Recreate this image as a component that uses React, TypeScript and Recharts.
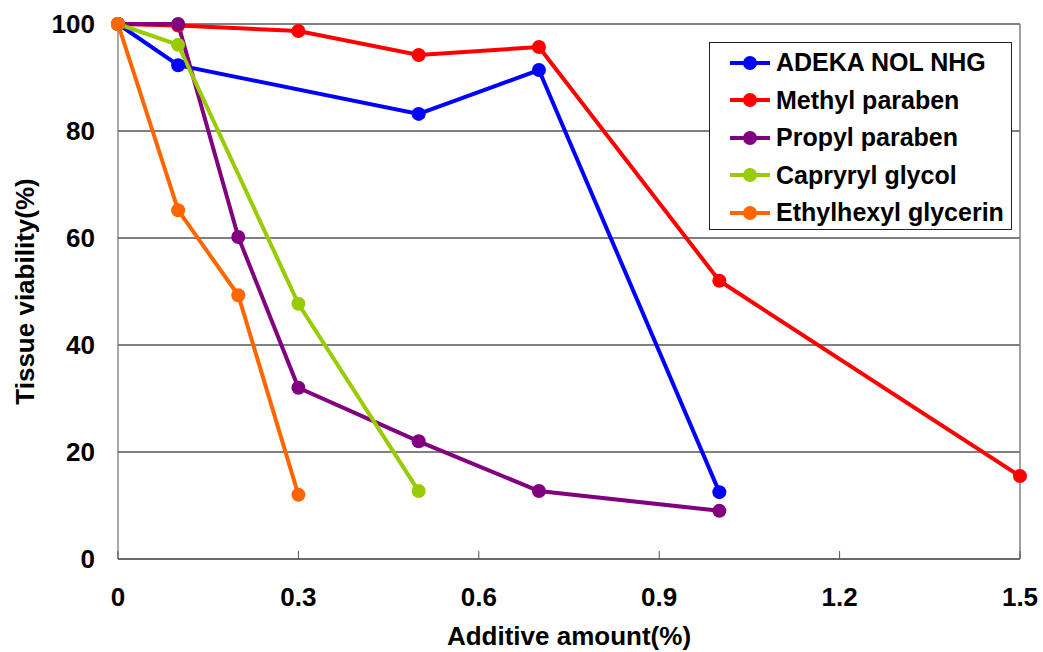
import { LineChart, Line, XAxis, YAxis, CartesianGrid, Legend, ReferenceLine } from "recharts";

// Additive amount (%) and tissue viability (%) for each additive
const adekaX = [0, 0.1, 0.5, 0.7, 1.0];
const adekaY = [100, 92.3, 83.2, 91.4, 12.5];

const methylX = [0, 0.1, 0.3, 0.5, 0.7, 1.0, 1.5];
const methylY = [100, 99.7, 98.7, 94.2, 95.7, 52.0, 15.5];

const propylX = [0, 0.1, 0.2, 0.3, 0.5, 0.7, 1.0];
const propylY = [100, 100, 60.2, 32.0, 22.0, 12.7, 9.0];

const caprylylX = [0, 0.1, 0.3, 0.5];
const caprylylY = [100, 96.1, 47.7, 12.7];

const ethylhexylX = [0, 0.1, 0.2, 0.3];
const ethylhexylY = [100, 65.2, 49.3, 12.0];

const xTicks = [0, 0.3, 0.6, 0.9, 1.2, 1.5];
const yTicks = [0, 20, 40, 60, 80, 100];

const FONT = "'Liberation Sans', Arial, sans-serif";

function toPoints(xs: number[], ys: number[]) {
    return xs.map((x, i) => ({ x, y: ys[i] }));
}

const series = [
    { name: "ADEKA NOL NHG", color: "#0000ff", data: toPoints(adekaX, adekaY) },
    { name: "Methyl paraben", color: "#ff0000", data: toPoints(methylX, methylY) },
    { name: "Propyl paraben", color: "#800080", data: toPoints(propylX, propylY) },
    { name: "Capryryl glycol", color: "#99cc00", data: toPoints(caprylylX, caprylylY) },
    { name: "Ethylhexyl glycerin", color: "#ff6600", data: toPoints(ethylhexylX, ethylhexylY) },
];

function LegendBox() {
    return (
        <div
            style={{
                width: 301,
                height: 185,
                border: "1px solid #222",
                background: "#fff",
                paddingTop: 1,
                boxSizing: "content-box",
            }}
        >
            {series.map((s) => (
                <div key={s.name} style={{ display: "flex", alignItems: "center", height: 37.5 }}>
                    <svg width={66} height={20} style={{ flex: "none" }}>
                        <line x1={20} y1={10} x2={60} y2={10} stroke={s.color} strokeWidth={4} />
                        <circle cx={40} cy={10} r={7} fill={s.color} />
                    </svg>
                    <span style={{ fontFamily: FONT, fontWeight: "bold", fontSize: 25, color: "#000", whiteSpace: "nowrap" }}>
                        {s.name}
                    </span>
                </div>
            ))}
        </div>
    );
}

export default function App() {
    const tickStyle = { fontFamily: FONT, fontWeight: "bold", fontSize: 26, fill: "#000" };
    return (
        <div style={{ position: "absolute", left: 0, top: 0 }}>
            <LineChart width={1043} height={652} margin={{ top: 24, right: 23, left: 0, bottom: 0 }}>
                <CartesianGrid horizontal vertical={false} stroke="#000" strokeWidth={1} />
                <XAxis
                    dataKey="x"
                    type="number"
                    domain={[0, 1.5]}
                    ticks={xTicks}
                    allowDuplicatedCategory={false}
                    height={93}
                    stroke="#555"
                    tickSize={-8}
                    tickMargin={37}
                    tick={tickStyle}
                    label={{
                        value: "Additive amount(%)",
                        position: "insideBottom",
                        offset: 7,
                        style: { fontFamily: FONT, fontWeight: "bold", fontSize: 26, fill: "#000" },
                    }}
                />
                <YAxis
                    dataKey="y"
                    type="number"
                    domain={[0, 100]}
                    ticks={yTicks}
                    width={118}
                    stroke="#555"
                    tickLine={false}
                    tickSize={0}
                    tickMargin={23}
                    tick={tickStyle}
                    label={{
                        value: "Tissue viability(%)",
                        angle: -90,
                        position: "insideLeft",
                        offset: 25,
                        style: { fontFamily: FONT, fontWeight: "bold", fontSize: 26, fill: "#000", textAnchor: "middle" },
                    }}
                />
                <ReferenceLine y={100} stroke="#808080" strokeWidth={1.5} />
                <ReferenceLine x={1.5} stroke="#808080" strokeWidth={1.5} />
                <Legend
                    layout="vertical"
                    align="center"
                    verticalAlign="middle"
                    wrapperStyle={{ top: 42, left: 709, width: 303 }}
                    content={() => <LegendBox />}
                />
                {series.map((s) => (
                    <Line
                        key={s.name}
                        data={s.data}
                        dataKey="y"
                        name={s.name}
                        type="linear"
                        stroke={s.color}
                        strokeWidth={4}
                        dot={{ r: 7, fill: s.color, stroke: "none" }}
                        activeDot={false}
                        isAnimationActive={false}
                    />
                ))}
            </LineChart>
        </div>
    );
}
